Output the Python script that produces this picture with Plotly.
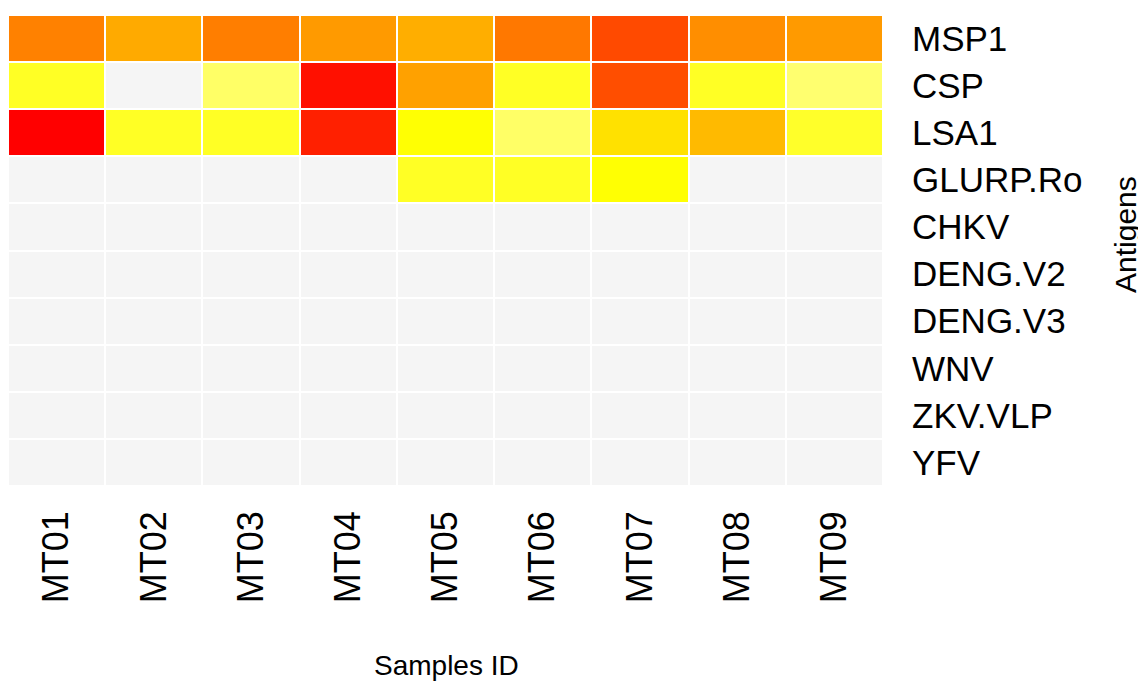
import plotly.graph_objects as go

samples = ["MT01", "MT02", "MT03", "MT04", "MT05", "MT06", "MT07", "MT08", "MT09"]
antigens = ["MSP1", "CSP", "LSA1", "GLURP.Ro", "CHKV", "DENG.V2", "DENG.V3", "WNV", "ZKV.VLP", "YFV"]

msp1 = [0.60, 0.47, 0.61, 0.52, 0.46, 0.63, 0.77, 0.56, 0.52]
csp = [0.12, 0.0, 0.04, 0.95, 0.50, 0.12, 0.76, 0.12, 0.03]
lsa1 = [1.00, 0.12, 0.12, 0.90, 0.20, 0.04, 0.30, 0.42, 0.11]
glurp = [0.0, 0.0, 0.0, 0.0, 0.12, 0.12, 0.20, 0.0, 0.0]
chkv = [0.0] * 9
deng_v2 = [0.0] * 9
deng_v3 = [0.0] * 9
wnv = [0.0] * 9
zkv_vlp = [0.0] * 9
yfv = [0.0] * 9

z = [msp1, csp, lsa1, glurp, chkv, deng_v2, deng_v3, wnv, zkv_vlp, yfv]

heat = ["#FFFF80", "#FFFF2A", "#FFFF00", "#FFDF00", "#FFBF00", "#FF9F00",
        "#FF8000", "#FF6000", "#FF4000", "#FF2000", "#FF0000"]
colorscale = [[0.0, "#F5F5F5"], [0.009, "#F5F5F5"]]
for k, c in enumerate(heat):
    colorscale.append([0.01 + 0.99 * k / 10, c])

W, H = 1138, 677
L, R, T, B = 0, 263, 7, 199
pw, ph = W - L - R, H - T - B

fig = go.Figure(go.Heatmap(
    z=z, x=samples, y=antigens, zmin=0, zmax=1,
    colorscale=colorscale, showscale=False, xgap=2, ygap=2,
    hoverinfo="skip",
))

fig.update_layout(
    width=W, height=H,
    margin=dict(l=L, r=R, t=T, b=B, autoexpand=False),
    paper_bgcolor="white", plot_bgcolor="white",
    font=dict(family="Liberation Sans, Arial, sans-serif", color="black"),
    showlegend=False,
)
fig.update_xaxes(tickangle=-90, tickfont=dict(size=36), showgrid=False,
                 zeroline=False, showline=False, ticklabelstandoff=17)
fig.update_yaxes(side="right", autorange="reversed", tickfont=dict(size=35),
                 showgrid=False, zeroline=False, showline=False, ticklabelstandoff=28)

fig.add_annotation(text="Samples ID", xref="paper", yref="paper",
                   x=(438 - L) / pw, y=-(657 - (H - B)) / ph,
                   showarrow=False, font=dict(size=28), xanchor="center", yanchor="middle")
fig.add_annotation(text="Antigens", xref="paper", yref="paper",
                   x=(1117 - L) / pw, y=1 - (227 - T) / ph,
                   textangle=-90, showarrow=False, font=dict(size=30),
                   xanchor="center", yanchor="middle")

fig.write_html("out.html")
